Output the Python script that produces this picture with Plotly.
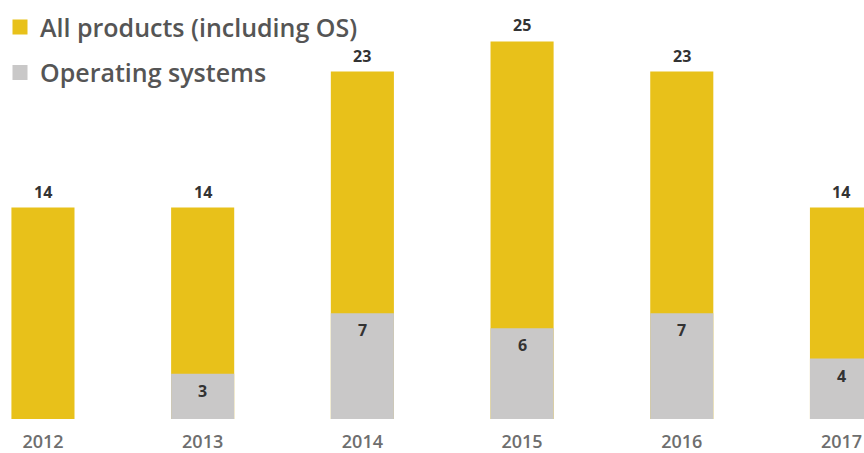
import plotly.graph_objects as go

years = ["2012", "2013", "2014", "2015", "2016", "2017"]
all_products = [14, 14, 23, 25, 23, 14]
operating_systems = [None, 3, 7, 6, 7, 4]

series_names = ["All products (including OS)", "Operating systems"]
YELLOW = "#E8C11A"
GRAY = "#C9C8C8"
FONT = "Open Sans"

fig = go.Figure()
fig.add_trace(go.Bar(
    x=years, y=all_products, name=series_names[0],
    marker=dict(color=YELLOW, line=dict(width=0)),
    width=0.395, showlegend=False, hoverinfo="skip",
))
fig.add_trace(go.Bar(
    x=years, y=operating_systems, name=series_names[1],
    marker=dict(color=GRAY, line=dict(width=0)),
    width=0.395, showlegend=False, hoverinfo="skip",
))
# legend entries
for nm, col, grp in [(series_names[0], YELLOW, "a"), (series_names[1], GRAY, "b")]:
    fig.add_trace(go.Scatter(
        x=[None], y=[None], mode="markers", name=nm, legendgroup=grp,
        marker=dict(symbol="square", size=15, color=col),
    ))

label_font = dict(family=FONT, size=16, color="#333333", weight=700)
for i, v in enumerate(all_products):
    fig.add_annotation(x=i, y=v, text=str(v), showarrow=False,
                       yshift=16, font=label_font)
for i, v in enumerate(operating_systems):
    if v is not None:
        fig.add_annotation(x=i, y=v, text=str(v), showarrow=False,
                           yshift=-17, font=label_font)

fig.update_layout(
    width=864, height=453,
    margin=dict(l=0, r=0, t=0, b=32),
    barmode="overlay",
    plot_bgcolor="white", paper_bgcolor="white",
    showlegend=True,
    legend=dict(
        x=0, y=0.99, xanchor="left", yanchor="top",
        font=dict(family=FONT, size=25, color="#555555", weight=600),
        traceorder="grouped", tracegroupgap=10,
        bgcolor="rgba(0,0,0,0)",
    ),
    xaxis=dict(
        type="category", range=[-0.269, 5.141],
        showgrid=False, zeroline=False, showline=False,
        ticks="outside", ticklen=6, tickcolor="rgba(0,0,0,0)",
        tickfont=dict(family=FONT, size=18, color="#6E6E6E", weight=600),
    ),
    yaxis=dict(
        range=[0, 27.74], visible=False, showgrid=False, zeroline=False,
    ),
)

fig.write_html(
    "out.html",
    config={"displayModeBar": False},
    post_script="document.body.style.margin='0';document.body.style.overflow='hidden';",
)
